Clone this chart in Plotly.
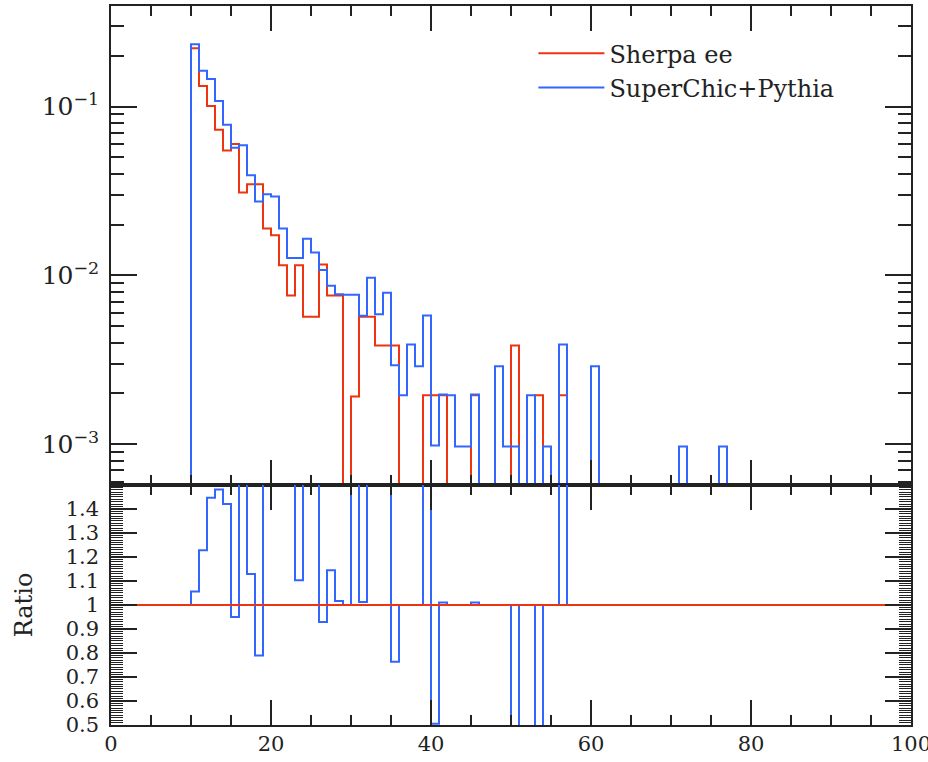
import plotly.graph_objects as go

# ---------------- data ----------------
# 1-unit bins, low edges 10 .. 76
bin_low = list(range(10, 77))
bin_width = 1

sherpa_ee = [
    0.2216, 0.1327, 0.1009, 0.0729, 0.0549, 0.0600, 0.0310, 0.0347, 0.0347, 0.0190,   # 10-19
    0.0173, 0.0115, 0.0076, 0.0115, 0.0057, 0.0057, 0.0116, 0.0076, 0.0076, 0.0,      # 20-29
    0.00192, 0.0057, 0.0057, 0.00385, 0.00385, 0.00385, 0.0, 0.0, 0.0, 0.00195,       # 30-39
    0.00195, 0.00195, 0.0, 0.0, 0.0, 0.00195, 0.0, 0.0, 0.0, 0.0,                     # 40-49
    0.00385, 0.0, 0.0, 0.00195, 0.0, 0.0, 0.00195, 0.0, 0.0, 0.0,                     # 50-59
    0.0, 0.0, 0.0, 0.0, 0.0, 0.0, 0.0, 0.0, 0.0, 0.0,                                 # 60-69
    0.0, 0.0, 0.0, 0.0, 0.0, 0.0, 0.0,                                                # 70-76
]

superchic_pythia = [
    0.234, 0.163, 0.146, 0.108, 0.078, 0.057, 0.059, 0.0392, 0.0274, 0.0303,          # 10-19
    0.0294, 0.0190, 0.0127, 0.01269, 0.0165, 0.0137, 0.01078, 0.0087, 0.00773, 0.0077, # 20-29
    0.0077, 0.00577, 0.0097, 0.0059, 0.0079, 0.00294, 0.00195, 0.0039, 0.0029, 0.0058, # 30-39
    0.000985, 0.00197, 0.00195, 0.00097, 0.00097, 0.00197, 0.0, 0.0, 0.0029, 0.00097,  # 40-49
    0.00097, 0.0, 0.00195, 0.0, 0.00097, 0.0, 0.0039, 0.0, 0.0, 0.0,                  # 50-59
    0.0029, 0.0, 0.0, 0.0, 0.0, 0.0, 0.0, 0.0, 0.0, 0.0,                              # 60-69
    0.0, 0.00097, 0.0, 0.0, 0.0, 0.0, 0.00097,                                        # 70-76
]

series_names = ["Sherpa ee", "SuperChic+Pythia"]
series_colors = ["#EE3311", "#3366FF"]

x_range = [0, 100]
x_tick_step = 20
ratio_tickvals = [0.5, 0.6, 0.7, 0.8, 0.9, 1.0, 1.1, 1.2, 1.3, 1.4]

# ---------------- helpers ----------------
LOG_FLOOR = 1e-9


def step_xy(low_edges, width, vals, floor):
    edges = list(low_edges) + [low_edges[-1] + width]
    x = [edges[0]] + edges
    y = [floor] + list(vals) + [floor]
    return x, y


def for_log(vals):
    return [v if v > 0 else LOG_FLOOR for v in vals]


# ratio drawn only where the reference histogram has content
last_ref = max(i for i, v in enumerate(sherpa_ee) if v > 0)
ratio = [b / r if r > 0 else 1.0 for b, r in zip(superchic_pythia, sherpa_ee)][: last_ref + 1]

fig = go.Figure()

# main panel
for name, vals, col in zip(series_names, [sherpa_ee, superchic_pythia], series_colors):
    x, y = step_xy(bin_low, bin_width, for_log(vals), LOG_FLOOR)
    fig.add_trace(go.Scatter(x=x, y=y, mode="lines", line=dict(shape="hv", color=col, width=2),
                             name=name, xaxis="x", yaxis="y"))

# ratio panel
rx, ry = step_xy(bin_low[: last_ref + 1], bin_width, ratio, 1.0)
fig.add_trace(go.Scatter(x=rx, y=ry, mode="lines", line=dict(shape="hv", color=series_colors[1], width=2),
                         showlegend=False, xaxis="x2", yaxis="y2"))
fig.add_trace(go.Scatter(x=x_range, y=[1.0, 1.0], mode="lines", line=dict(color=series_colors[0], width=2),
                         showlegend=False, xaxis="x2", yaxis="y2"))

AX = "#222222"
split = 0.3338

common_x = dict(range=x_range, dtick=x_tick_step, tick0=0, ticks="inside", ticklen=25, tickwidth=1.5,
                tickcolor=AX, showline=True, linecolor=AX, linewidth=1.5, mirror="ticks",
                showgrid=False, zeroline=False, automargin=False,
                minor=dict(ticks="inside", dtick=5, tick0=0, ticklen=10, tickwidth=1.5, tickcolor=AX,
                           showgrid=False))

fig.update_layout(
    width=928, height=762,
    margin=dict(l=111, r=17, t=6, b=37, autoexpand=False),
    paper_bgcolor="white", plot_bgcolor="white",
    font=dict(family="DejaVu Serif", color=AX, size=21),
    showlegend=True,
    legend=dict(x=0.528, y=0.965, xanchor="left", yanchor="top", itemwidth=66,
                font=dict(size=24, color=AX), bgcolor="rgba(0,0,0,0)", tracegroupgap=0),
    xaxis=dict(domain=[0, 1], anchor="y", showticklabels=False, **common_x),
    xaxis2=dict(domain=[0, 1], anchor="y2", matches="x", showticklabels=True,
                ticklabeloverflow="allow", ticklabelstandoff=-1, tickfont=dict(size=21), **common_x),
    yaxis=dict(domain=[split, 1], anchor="x", type="log", range=[-3.241, -0.404], dtick=1,
               exponentformat="power", ticks="inside", ticklen=26, tickwidth=1.5, tickcolor=AX,
               showline=True, linecolor=AX, linewidth=1.5, mirror="ticks", showgrid=False,
               zeroline=False, automargin=False, ticklabelstandoff=6, tickfont=dict(size=20),
               minor=dict(ticks="inside", dtick="D1", ticklen=13, tickwidth=1.5, tickcolor=AX,
                          showgrid=False)),
    yaxis2=dict(domain=[0, split], anchor="x2", range=[0.5, 1.5], tickmode="array",
                tickvals=ratio_tickvals, ticks="inside", ticklen=26, tickwidth=1.5, tickcolor=AX,
                showline=True, linecolor=AX, linewidth=1.5, mirror="ticks", showgrid=False,
                zeroline=False, automargin=False, ticklabelstandoff=6, tickfont=dict(size=21),
                title=dict(text="Ratio", font=dict(size=24), standoff=26),
                minor=dict(ticks="inside", tickmode="linear", tick0=0.5, dtick=0.01, ticklen=12,
                           tickwidth=1, tickcolor=AX, showgrid=False)),
)

fig.write_html("out.html", config={"displayModeBar": False},
               post_script="document.body.style.margin='0';")
